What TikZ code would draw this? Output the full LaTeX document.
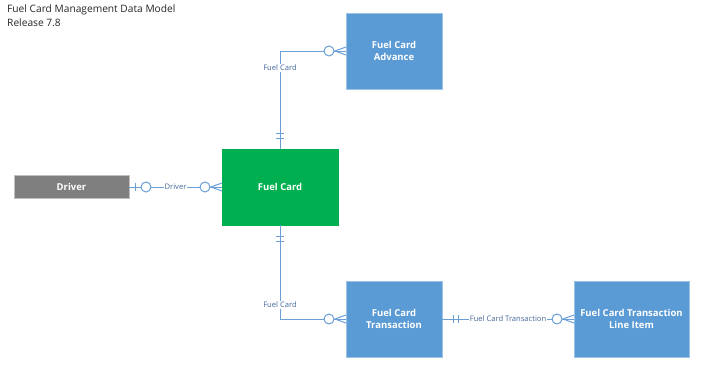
\documentclass[tikz,border=0pt]{standalone}
\usepackage{fontspec}
\setmainfont{Open Sans}
\usepackage{xcolor}
\definecolor{EntBlue}{HTML}{5B9BD5}
\definecolor{EntBlueEdge}{HTML}{9DC3E6}
\definecolor{EntGreen}{HTML}{00B050}
\definecolor{EntGray}{HTML}{7F7F7F}
\definecolor{EntGrayEdge}{HTML}{BFBFBF}
\definecolor{RelLine}{HTML}{6A9FD8}
\definecolor{RelText}{HTML}{44699A}
\definecolor{TitleText}{HTML}{262626}
\usetikzlibrary{positioning}
\tikzset{
  ent/.style={rectangle, align=center, font=\fontsize{9.5}{12.5}\selectfont\bfseries,
              text=white, inner sep=0pt, outer sep=0pt, line width=0.8pt,
              minimum width=#1, minimum height=76pt},
  bent/.style={ent=96pt, fill=EntBlue, draw=EntBlueEdge},
  gent/.style={ent=116pt, fill=EntGreen, draw=EntGreen},
  dent/.style={ent=115pt, minimum height=23pt, fill=EntGray, draw=EntGrayEdge},
  rel/.style={line width=1pt, color=RelLine},
  rlab/.style={font=\fontsize{7.6}{9}\selectfont, text=RelText, fill=white, inner sep=1pt},
  zmany/.pic={\draw[rel] (0,4) -- (11,0) -- (0,-4);
              \draw[rel, fill=white] (17,0) circle (5pt);},
  zone/.pic={\draw[rel] (6,4) -- (6,-4);
             \draw[rel, fill=white] (17,0) circle (5pt);},
  oone/.pic={\draw[rel] (11,4) -- (11,-4) (16,4) -- (16,-4);},
}
\begin{document}
\begin{tikzpicture}[x=1pt, y=1pt]
  \useasboundingbox (0,0) rectangle (701,-367);

  % Title
  \node[anchor=north west, align=left, inner sep=0pt, text=TitleText,
        font=\fontsize{10.2}{14}\selectfont] (title) at (7,-5)
    {Fuel Card Management Data Model\\Release 7.8};

  % Entities
  \node[gent] (fc) at (280,-187) {Fuel Card};
  \node[bent] (fca) at (394,-51) {Fuel Card\\Advance};
  \node[dent] (drv) at (71.5,-187) {Driver};
  \node[bent] (fct) at (394,-319) {Fuel Card\\Transaction};
  \node[bent, minimum width=115pt, right=132pt of fct] (fcli) {Fuel Card Transaction\\Line Item};

  % Relationships
  \draw[rel] (fc.north) |- node[rlab, pos=0.414] {Fuel Card} (fca.west);
  \draw[rel] (drv.east) -- node[rlab] {Driver} (fc.west);
  \draw[rel] (fc.south) |- node[rlab, pos=0.426] {Fuel Card} (fct.west);
  \draw[rel] (fct.east) -- node[rlab] {Fuel Card Transaction} (fcli.west);

  % Cardinality marks
  \pic[rotate=90]  at (fc.north)   {oone};
  \pic[rotate=180] at (fca.west)   {zmany};
  \pic             at (drv.east)   {zone};
  \pic[rotate=180] at (fc.west)    {zmany};
  \pic[rotate=-90] at (fc.south)   {oone};
  \pic[rotate=180] at (fct.west)   {zmany};
  \pic             at (fct.east)   {oone};
  \pic[rotate=180] at (fcli.west)  {zmany};

\end{tikzpicture}
\end{document}
